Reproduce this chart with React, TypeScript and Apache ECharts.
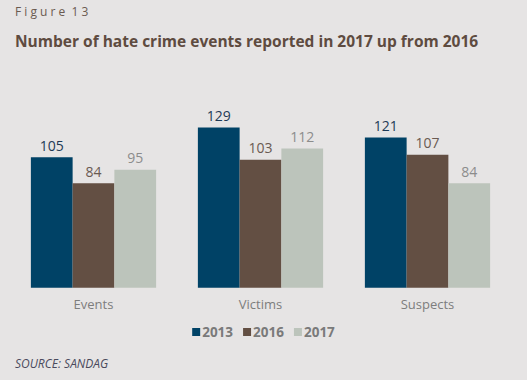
import React, { useEffect, useRef } from "react";
import * as echarts from "echarts";

const categories = ["Events", "Victims", "Suspects"];
const seriesNames = ["2013", "2016", "2017"];
const values2013 = [105, 129, 121];
const values2016 = [84, 103, 107];
const values2017 = [95, 112, 84];

const barColors = ["#004266", "#634f43", "#bcc4bb"];
const labelColors = ["#1e3a56", "#6a5a52", "#8c8c8c"];

export default function App() {
  const ref = useRef<HTMLDivElement>(null);
  useEffect(() => {
    if (!ref.current) return;
    const chart = echarts.init(ref.current, undefined, { renderer: "svg" });
    const data = [values2013, values2016, values2017];
    chart.setOption({
      animation: false,
      backgroundColor: "#e6e4e4",
      textStyle: { fontFamily: "Open Sans" },
      title: [
        {
          text: "F i g u r e  1 3",
          left: 10,
          top: 0,
          textStyle: { fontSize: 12, fontWeight: "normal", color: "#6b5a50", fontFamily: "Open Sans" },
        },
        {
          text: "Number of hate crime events reported in 2017 up from 2016",
          left: 10,
          top: 28,
          textStyle: { fontSize: 15.5, fontWeight: "bold", color: "#5e4b40", fontFamily: "Open Sans" },
        },
        {
          text: "SOURCE: SANDAG",
          left: 10,
          top: 352,
          textStyle: { fontSize: 12, fontWeight: "normal", fontStyle: "italic", color: "#4a4a5c", fontFamily: "Open Sans" },
        },
      ],
      legend: {
        data: seriesNames,
        top: 320,
        left: "center",
        itemWidth: 8,
        itemHeight: 8,
        itemGap: 10,
        icon: "rect",
        textStyle: { fontSize: 13.5, fontWeight: "bold", color: "#7a7a7a", fontFamily: "Open Sans", padding: [0, 0, 0, -3] },
      },
      grid: { left: 10, width: 501, top: 113.8, height: 173.9 },
      xAxis: {
        type: "category",
        data: categories,
        axisLine: { show: false },
        axisTick: { show: false },
        axisLabel: { fontSize: 13, color: "#7d7d7d", margin: 10, fontFamily: "Open Sans" },
      },
      yAxis: { type: "value", min: 0, max: 140, show: false, splitLine: { show: false } },
      series: seriesNames.map((name, i) => ({
        name,
        type: "bar",
        data: data[i],
        barGap: "0%",
        barCategoryGap: "25%",
        itemStyle: { color: barColors[i] },
        label: {
          show: true,
          position: "top",
          distance: 5,
          fontSize: 14,
          color: labelColors[i],
          fontFamily: "Open Sans",
        },
      })),
    });
    return () => chart.dispose();
  }, []);
  return <div ref={ref} style={{ width: 527, height: 380, position: "absolute", left: 0, top: 0 }} />;
}
